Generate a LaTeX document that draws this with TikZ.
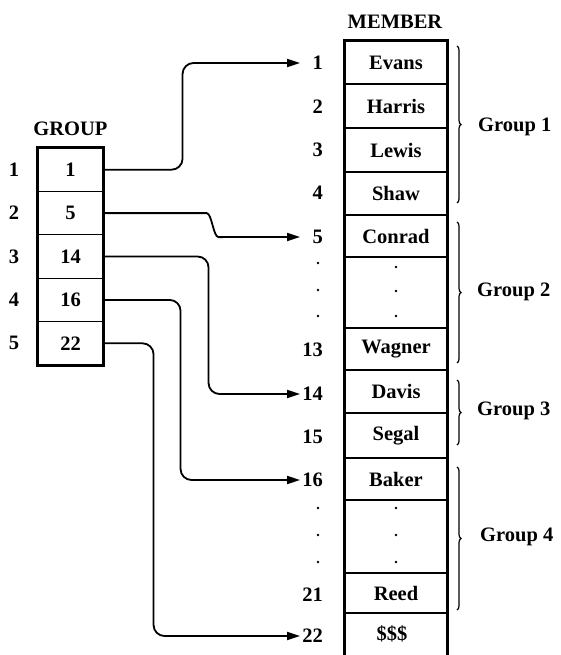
\documentclass[tikz,border=0pt]{standalone}
\usepackage{fontspec}
\setmainfont{Liberation Serif}
\usetikzlibrary{arrows.meta,decorations.pathreplacing}
\begin{document}
\begin{tikzpicture}[x=1pt,y=-1pt,
  lbl/.style={font=\fontsize{20.5}{20.5}\selectfont\bfseries, inner sep=0pt},
  cell/.style={lbl, draw, line width=1.1pt, minimum width=102pt},
  gcell/.style={lbl, draw, line width=1.1pt, minimum width=65pt, minimum height=43.4pt},
  outline/.style={line width=2.4pt},
  conn/.style={line width=1.8pt, rounded corners=11pt, -{Triangle[length=13pt,width=8pt]}},
  brc/.style={decorate, decoration={brace, amplitude=4pt}, line width=1.2pt},
  dotmark/.style={circle, fill, inner sep=0pt, minimum size=2.6pt},
  num/.style={lbl, anchor=east}
]
\useasboundingbox (0,0) rectangle (560,655);
\coordinate (ax) at (300,0);
\coordinate (bot) at (0,655);

% GROUP table
\node[lbl] (glabel) at (70.5,129) {GROUP};
\node[gcell] (g1) at (70.5,169.7) {1};
\node[gcell] (g2) at (70.5,213.1) {5};
\node[gcell] (g3) at (70.5,256.5) {14};
\node[gcell] (g4) at (70.5,299.9) {16};
\node[gcell] (g5) at (70.5,343.3) {22};
\draw[outline] (g1.north west) rectangle (g5.south east);
\node[lbl] (r1) at (14,169.7) {1};
\node[lbl] (r2) at (14,213.1) {2};
\node[lbl] (r3) at (14,256.5) {3};
\node[lbl] (r4) at (14,299.9) {4};
\node[lbl] (r5) at (14,343.3) {5};

% MEMBER table
\node[lbl] (mlabel) at (395,22) {MEMBER};
\node[cell, minimum height=43pt] (evans) at (396,62.5) {Evans};
\node[cell, minimum height=44pt] (harris) at (396,106) {Harris};
\node[cell, minimum height=44pt] (lewis) at (396,150) {Lewis};
\node[cell, minimum height=43pt] (shaw) at (396,193.5) {Shaw};
\node[cell, minimum height=42pt] (conrad) at (396,236) {Conrad};
\node[cell, minimum height=71pt] (dots1) at (396,292.5) {};
\node[cell, minimum height=42pt] (wagner) at (396,349) {Wagner};
\node[cell, minimum height=43pt] (davis) at (396,391.5) {Davis};
\node[cell, minimum height=45pt] (segal) at (396,435.5) {Segal};
\node[cell, minimum height=42pt] (baker) at (396,479) {Baker};
\node[cell, minimum height=73pt] (dots2) at (396,536.5) {};
\node[cell, minimum height=40pt] (reed) at (396,593) {Reed};
\node[lbl] (sss) at (392,634) {\$\$\$};
\draw[outline] (evans.west |- bot) -- (evans.north west) -- (evans.north east) -- (evans.east |- bot);

\node[dotmark] (d1a) at (396,267) {};
\node[dotmark] (d1b) at (396,291) {};
\node[dotmark] (d1c) at (396,316) {};
\node[dotmark] (d2a) at (396,508) {};
\node[dotmark] (d2b) at (396,535) {};
\node[dotmark] (d2c) at (396,562) {};

% MEMBER row numbers
\node[num] (m1) at (323,63) {1};
\node[num] (m2) at (323,107) {2};
\node[num] (m3) at (323,150) {3};
\node[num] (m4) at (323,193) {4};
\node[num] (m5) at (323,237) {5};
\node[dotmark] (l1a) at (318,263) {};
\node[dotmark] (l1b) at (318,290) {};
\node[dotmark] (l1c) at (318,316) {};
\node[num] (m13) at (323,350) {13};
\node[num] (m14) at (323,394) {14};
\node[num] (m15) at (323,437) {15};
\node[num] (m16) at (323,480) {16};
\node[dotmark] (l2a) at (318,508) {};
\node[dotmark] (l2b) at (318,535) {};
\node[dotmark] (l2c) at (318,562) {};
\node[num] (m21) at (323,595) {21};
\node[num] (m22) at (323,636) {22};

% connectors
\draw[conn] (g1.east) -- ++(79,0) |- (ax |- m1.east);
\draw[conn] (g2.east) -- ++(92,0) to[out=0,in=180] ++(34,24) -- (ax |- m5.east);
\draw[conn] (g3.east) -- ++(105,0) |- (ax |- m14.east);
\draw[conn] (g4.east) -- ++(77,0) |- (ax |- m16.east);
\draw[conn] (g5.east) -- ++(50,0) |- (ax |- m22.east);

% braces
\draw[brc] (457,46) -- (457,203);
\node[lbl, anchor=west] (grp1) at (478,127) {Group 1};
\draw[brc] (457,222) -- (457,363);
\node[lbl, anchor=west] (grp2) at (477,292) {Group 2};
\draw[brc] (457,380) -- (457,445);
\node[lbl, anchor=west] (grp3) at (477,411) {Group 3};
\draw[brc] (457,467) -- (457,610);
\node[lbl, anchor=west] (grp4) at (480,537) {Group 4};
\end{tikzpicture}
\end{document}
